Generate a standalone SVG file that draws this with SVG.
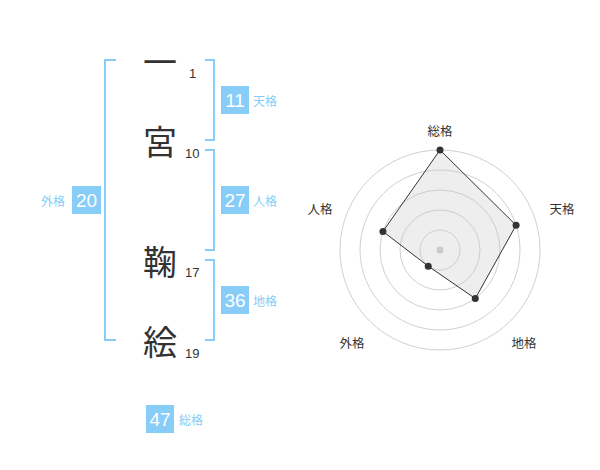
<svg xmlns="http://www.w3.org/2000/svg" width="600" height="470" viewBox="0 0 600 470">
<style>
.ch{font-family:"Noto Sans CJK JP","Noto Sans",sans-serif;font-size:34px;fill:#333;text-anchor:middle;dominant-baseline:central}
.num{font-family:"Liberation Sans",Arial,sans-serif;font-size:13px;fill:#333}
.br{fill:none;stroke:#88ccf8;stroke-width:2}
.box{fill:#88ccf8}
.bt{font-family:"Liberation Sans",Arial,sans-serif;font-size:19px;fill:#fff;text-anchor:middle;dominant-baseline:central}
.lb{font-family:"Noto Sans CJK JP","Noto Sans",sans-serif;font-size:12px;fill:#88ccf8;dominant-baseline:central}
.rl{font-family:"Noto Sans CJK JP","Noto Sans",sans-serif;font-size:12.5px;fill:#333;text-anchor:middle;dominant-baseline:central}
.ring{fill:none;stroke:#d0d0d0;stroke-width:1}
.pt{fill:#333}
</style>
<rect width="600" height="470" fill="#fff"/>
<g id="chars">
<g id="c1"><text class="ch" x="160" y="60">一</text><text class="num" x="189" y="78">1</text></g>
<g id="c2"><text class="ch" x="160" y="140">宮</text><text class="num" x="185" y="158">10</text></g>
<g id="c3"><text class="ch" x="160" y="260">鞠</text><text class="num" x="185" y="277">17</text></g>
<g id="c4"><text class="ch" x="160" y="340">絵</text><text class="num" x="185" y="358">19</text></g>
</g>
<g id="connectors">
<path class="br" d="M116,60 H105 V340 H116"/>
<path class="br" d="M205,60 H214 V140 H205"/>
<path class="br" d="M205,150 H214 V250 H205"/>
<path class="br" d="M205,260 H214 V340 H205"/>
</g>
<g id="tenkaku"><rect class="box" x="221" y="86" width="28" height="28"/><text class="bt" x="235" y="100">11</text><text class="lb" x="253" y="100">天格</text></g>
<g id="jinkaku"><rect class="box" x="221" y="186" width="28" height="28"/><text class="bt" x="235" y="200">27</text><text class="lb" x="253" y="200">人格</text></g>
<g id="chikaku"><rect class="box" x="221" y="286" width="28" height="28"/><text class="bt" x="235" y="300">36</text><text class="lb" x="253" y="300">地格</text></g>
<g id="gaikaku"><rect class="box" x="72" y="186" width="29" height="28"/><text class="bt" x="86.5" y="200">20</text><text class="lb" x="41" y="200">外格</text></g>
<g id="soukaku"><rect class="box" x="146" y="405" width="28" height="28"/><text class="bt" x="160" y="419">47</text><text class="lb" x="179" y="419">総格</text></g>
<g id="radar">
<circle class="ring" cx="440" cy="250" r="20"/>
<circle class="ring" cx="440" cy="250" r="40"/>
<circle class="ring" cx="440" cy="250" r="60"/>
<circle class="ring" cx="440" cy="250" r="80"/>
<circle class="ring" cx="440" cy="250" r="100"/>
<circle cx="440" cy="250" r="3.5" fill="#ccc"/>
<polygon points="440,150 516.09,225.28 475.27,298.54 428.24,266.18 382.94,231.46" fill="rgba(200,200,200,0.3)" stroke="#333" stroke-width="1"/>
<circle class="pt" cx="440" cy="150" r="3.5"/>
<circle class="pt" cx="516.09" cy="225.28" r="3.5"/>
<circle class="pt" cx="475.27" cy="298.54" r="3.5"/>
<circle class="pt" cx="428.24" cy="266.18" r="3.5"/>
<circle class="pt" cx="382.94" cy="231.46" r="3.5"/>
<text class="rl" x="440" y="130">総格</text>
<text class="rl" x="562" y="208">天格</text>
<text class="rl" x="320" y="208">人格</text>
<text class="rl" x="352" y="342">外格</text>
<text class="rl" x="524" y="342">地格</text>
</g>
</svg>
